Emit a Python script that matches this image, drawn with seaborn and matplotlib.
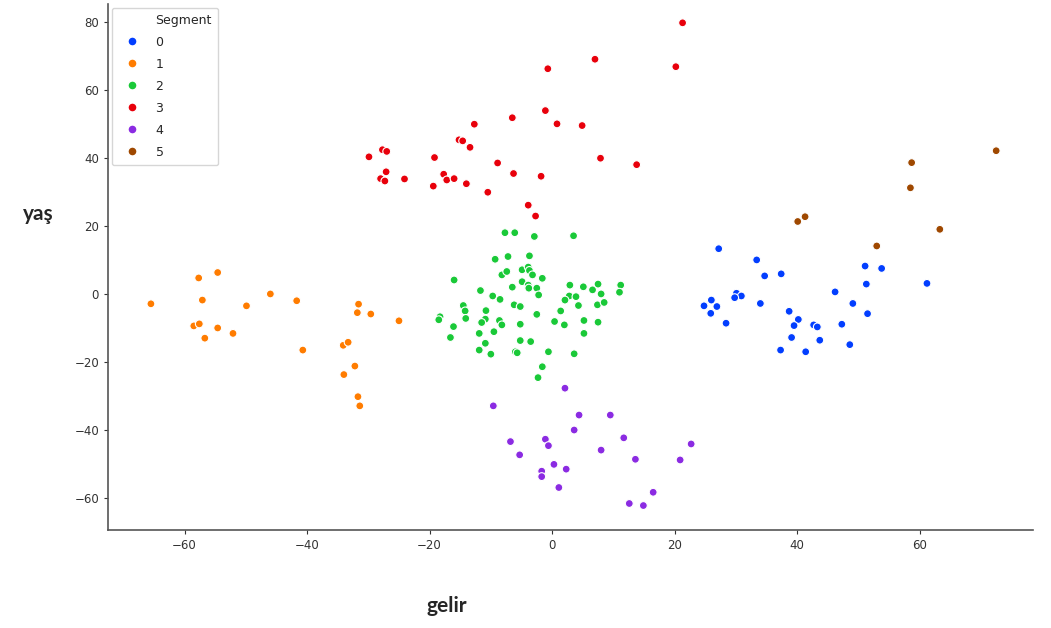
import matplotlib
matplotlib.use("Agg")
import matplotlib.pyplot as plt
import seaborn as sns
import pandas as pd
from matplotlib.lines import Line2D

# Segment 0 (blue)
seg0_x = [27.2, 33.4, 34.7, 37.4, 51.1, 53.8, 51.3, 61.2, 46.2, 49.1, 30.1, 30.9, 29.8,
          26.0, 24.8, 26.9, 25.9, 34.0, 28.4, 38.7, 40.2, 39.5, 42.7, 43.3, 51.5, 47.3,
          39.1, 43.7, 48.6, 37.3, 41.4]
seg0_y = [13.3, 10.0, 5.3, 5.9, 8.2, 7.5, 2.9, 3.1, 0.6, -2.8, 0.2, -0.6, -1.1,
          -1.8, -3.5, -3.7, -5.7, -2.8, -8.6, -5.1, -7.5, -9.3, -9.1, -9.7, -5.8, -8.9,
          -12.8, -13.6, -14.9, -16.5, -17.0]
# Segment 1 (orange)
seg1_x = [-65.5, -57.7, -54.6, -57.1, -58.5, -57.6, -54.6, -56.7, -52.1, -49.9, -46.0,
          -41.7, -40.7, -31.6, -31.8, -29.6, -25.0, -34.1, -33.3, -32.2, -34.0, -31.7, -31.4]
seg1_y = [-2.9, 4.7, 6.3, -1.8, -9.4, -8.8, -10.0, -13.0, -11.6, -3.5, 0.0,
          -2.0, -16.5, -3.0, -5.5, -5.9, -7.9, -15.1, -14.2, -21.2, -23.7, -30.2, -32.9]
# Segment 2 (green)
seg2_x = [-7.7, -6.1, -2.9, 3.5, -9.3, -7.2, -3.7, -16.0, -8.2, -7.4, -4.9, -3.9, -3.7,
          -3.2, -1.6, -4.9, -3.9, -3.8, -2.5, -6.5, -2.2, -11.7, -9.7, -8.5, 2.9, 5.1,
          6.6, 7.5, 8.0, 11.2, 11.0, 2.8, 3.9, 2.1, 4.3, 7.4, 8.5, -14.5, -14.2, -14.1,
          -6.2, -5.2, -10.8, -10.9, -18.3, -18.5, -11.5, -8.6, -8.2, -2.5, 1.4, 0.4, 2.0,
          5.2, 7.5, -16.1, -16.6, -11.9, -9.5, -5.2, -5.2, -3.5, 5.2, -10.9, -11.9, -10.0,
          -6.0, -5.7, -0.6, 3.6, -1.6, -2.3]
seg2_y = [18.0, 18.0, 16.9, 17.1, 10.2, 11.0, 11.2, 4.1, 5.6, 6.6, 7.1, 7.9, 6.9,
          5.6, 4.6, 3.6, 2.6, 1.7, 1.7, 2.0, -0.3, 1.0, -0.6, -1.6, 2.6, 2.1,
          1.2, 2.9, 0.0, 2.6, 0.5, -0.6, -0.8, -1.8, -3.4, -3.2, -2.5, -3.4, -5.0, -7.2,
          -3.2, -3.7, -4.9, -7.4, -6.7, -7.6, -8.4, -7.8, -9.1, -6.0, -5.0, -8.1, -9.1,
          -7.8, -8.3, -9.6, -12.8, -11.6, -11.1, -8.9, -13.7, -14.0, -11.6, -14.5, -16.5, -17.7,
          -17.0, -17.3, -17.0, -17.6, -21.4, -24.6]
# Segment 3 (red)
seg3_x = [21.3, 7.0, 20.2, -0.7, -1.1, -6.5, -12.7, 0.8, 4.9, -15.2, -14.6, -13.4,
          -27.7, -27.0, -29.9, -19.2, 7.9, 13.8, -8.9, -27.1, -28.0, -27.3, -24.1, -17.7,
          -17.2, -16.0, -19.4, -14.0, -6.3, -1.8, -10.5, -3.9, -2.7]
seg3_y = [79.7, 69.0, 66.8, 66.2, 53.9, 51.8, 49.9, 50.0, 49.5, 45.3, 45.0, 43.1,
          42.4, 41.9, 40.3, 40.1, 39.9, 38.0, 38.5, 35.9, 33.9, 33.2, 33.8, 35.2,
          33.5, 33.9, 31.7, 32.4, 35.4, 34.6, 29.9, 26.1, 22.9]
# Segment 4 (purple)
seg4_x = [2.1, -9.6, 4.4, 9.5, 3.6, 11.7, -6.8, -1.1, -0.6, 22.7, -5.3, 8.0, 13.6,
          20.9, 0.3, 2.3, -1.7, -1.7, 1.1, 16.5, 12.6, 14.9]
seg4_y = [-27.7, -32.9, -35.6, -35.6, -40.0, -42.3, -43.4, -42.7, -44.6, -44.1, -47.3,
          -45.9, -48.6, -48.8, -50.1, -51.5, -52.1, -53.7, -56.9, -58.3, -61.6, -62.2]
# Segment 5 (brown)
seg5_x = [72.5, 58.7, 58.5, 40.1, 41.3, 63.3, 53.0]
seg5_y = [42.1, 38.6, 31.2, 21.3, 22.7, 19.0, 14.1]

segments = ["0", "1", "2", "3", "4", "5"]
xs = [seg0_x, seg1_x, seg2_x, seg3_x, seg4_x, seg5_x]
ys = [seg0_y, seg1_y, seg2_y, seg3_y, seg4_y, seg5_y]

rows = []
for s, xx, yy in zip(segments, xs, ys):
    for a, b in zip(xx, yy):
        rows.append({"gelir": a, "yaş": b, "Segment": s})
df = pd.DataFrame(rows)

sns.set_style("ticks")
palette = sns.color_palette("bright", 6)

fig = plt.figure(figsize=(10.51, 6.28), dpi=100)
ax = fig.add_axes([0.1028, 0.156, 0.880, 0.838])
sns.scatterplot(data=df, x="gelir", y="yaş", hue="Segment", hue_order=segments,
                palette=palette, s=32, edgecolor="white", linewidth=0.8, ax=ax,
                legend=False)
ax.set_xlim(-72.5, 78.5)
ax.set_ylim(-69.4, 85.3)
ax.set_xticks([-60, -40, -20, 0, 20, 40, 60])
ax.set_yticks([-60, -40, -20, 0, 20, 40, 60, 80])
ax.tick_params(labelsize=8.5, colors="#333333", length=3)
for sp in ["left", "bottom"]:
    ax.spines[sp].set_color("#555555")
    ax.spines[sp].set_linewidth(1.2)
sns.despine(ax=ax)
ax.set_xlabel("")
ax.set_ylabel("")

handles = [Line2D([], [], linestyle="", marker="")]
labels = ["Segment"]
for s, c in zip(segments, palette):
    handles.append(Line2D([], [], linestyle="", marker="o", markersize=6.5,
                          markerfacecolor=c, markeredgecolor="white"))
    labels.append(s)
ax.legend(handles, labels, loc="upper left", fontsize=9, frameon=True,
          handletextpad=0.8, borderpad=0.5, labelspacing=0.72,
          borderaxespad=0.3, handlelength=2.2)

fig.text(0.036, 0.66, "yaş", fontsize=15, fontweight="bold", family=["Lato", "DejaVu Sans"],
         ha="center", va="center")
fig.text(0.425, 0.035, "gelir", fontsize=15, fontweight="bold", family=["Lato", "DejaVu Sans"],
         ha="center", va="center")

fig.savefig("out.png", dpi=100)
